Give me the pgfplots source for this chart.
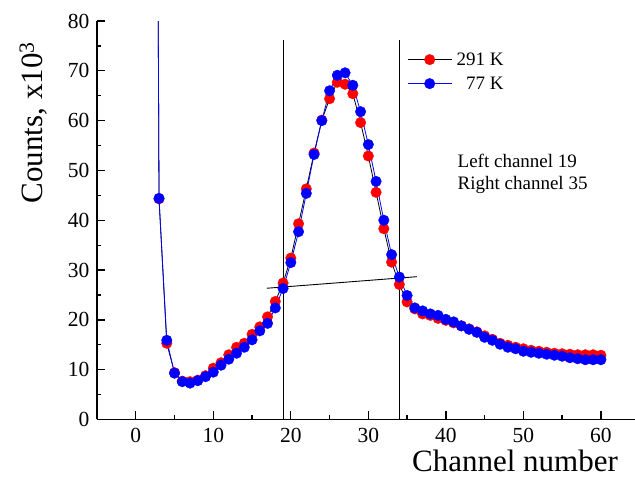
\documentclass[border=0pt]{standalone}
\usepackage{fontspec}
\setmainfont{Liberation Serif}
\usepackage{pgfplots}
\pgfplotsset{compat=1.18}
\begin{document}
\begin{tikzpicture}
\begin{axis}[
  at={(0,0)}, anchor=south west,
  scale only axis, width=538bp, height=398.5bp,
  xmin=-5, xmax=64.4, ymin=0, ymax=80,
  axis x line=bottom, axis y line=left,
  axis line style={-, line width=1.3bp},
  xtick={0,10,...,60}, minor xtick={5,15,...,55},
  ytick={0,10,...,80}, minor ytick={5,15,...,75},
  tick align=inside,
  major tick length=8bp, minor tick length=4.5bp,
  every tick/.style={line width=1.3bp, black},
  ticklabel style={font=\fontsize{21.5bp}{25bp}\selectfont},
  yticklabel style={xshift=-4bp},
  xticklabel style={yshift=-5bp},
  /pgf/number format/assume math mode=true,
  xlabel={Channel number},
  xlabel style={at={(axis description cs:0.777,-0.131)}, anchor=base, inner sep=0pt, font=\fontsize{31bp}{36bp}\selectfont},
  ylabel={Counts, x10\textsuperscript{3}},
  ylabel style={at={(axis description cs:-0.1004,0.745)}, anchor=base, inner sep=0pt, font=\fontsize{31bp}{36bp}\selectfont},
  legend style={at={(axis cs:35,74.0)}, anchor=north west, draw=none, fill=none,
    font=\fontsize{19bp}{22bp}\selectfont, inner sep=0pt, row sep=7bp, column sep=3bp, nodes={inner sep=1.5bp}},
  legend cell align=right,
  legend image code/.code={\draw[mark repeat=2,mark phase=2,#1] plot coordinates {(0bp,0bp) (22bp,0bp) (44bp,0bp)};},
]
\addplot[black, line width=0.8bp, mark=*, mark size=5.3bp, mark options={fill=red, draw=red, line width=0.3bp}] coordinates {
(2,400) (3,44.3) (4,15.3) (5,9.4) (6,7.7) (7,7.6) (8,7.9) (9,8.8) (10,10.3)
(11,11.4) (12,13.0) (13,14.5) (14,15.3) (15,17.1) (16,18.6) (17,20.6) (18,23.7)
(19,27.4) (20,32.4) (21,39.3) (22,46.3) (23,53.5) (24,60.1) (25,64.4) (26,67.7)
(27,67.3) (28,65.4) (29,59.6) (30,52.9) (31,45.6) (32,38.3) (33,31.6) (34,27.1)
(35,23.6) (36,22.2) (37,21.2) (38,20.9) (39,20.3) (40,19.9) (41,19.4) (42,18.8)
(43,18.2) (44,17.6) (45,16.8) (46,16.1) (47,15.3) (48,14.9) (49,14.5) (50,14.2)
(51,13.9) (52,13.7) (53,13.5) (54,13.3) (55,13.2) (56,13.1) (57,13.0) (58,13.0)
(59,13.0) (60,12.9)
};
\addlegendentry{291 K}
\addplot[blue, line width=0.8bp, mark=*, mark size=5.3bp, mark options={fill=blue, draw=blue, line width=0.3bp}] coordinates {
(2,400) (3,44.4) (4,15.9) (5,9.3) (6,7.6) (7,7.3) (8,7.8) (9,8.6) (10,9.5)
(11,10.9) (12,12.1) (13,13.3) (14,14.5) (15,16.0) (16,17.8) (17,19.3) (18,22.4)
(19,26.3) (20,31.5) (21,37.7) (22,45.4) (23,53.2) (24,60.0) (25,66.0) (26,69.1)
(27,69.6) (28,67.1) (29,61.8) (30,55.2) (31,47.8) (32,40.0) (33,33.1) (34,28.6)
(35,24.9) (36,22.4) (37,21.8) (38,21.2) (39,20.9) (40,20.1) (41,19.6) (42,18.8)
(43,18.1) (44,17.5) (45,16.5) (46,15.9) (47,15.1) (48,14.5) (49,14.2) (50,13.7)
(51,13.5) (52,13.3) (53,13.1) (54,12.9) (55,12.7) (56,12.4) (57,12.2) (58,12.0)
(59,12.0) (60,12.0)
};
\addlegendentry{77 K}
\addplot[black, line width=0.9bp, forget plot] coordinates {(19,0) (19,76.2)};
\addplot[black, line width=0.9bp, forget plot] coordinates {(34,0) (34,76.2)};
\addplot[black, line width=0.9bp, forget plot] coordinates {(16.9,26.35) (36.26,28.67)};
\node[anchor=base west, font=\fontsize{19bp}{22bp}\selectfont, inner sep=0pt] at (axis cs:41.5,50.5) {Left channel 19};
\node[anchor=base west, font=\fontsize{19bp}{22bp}\selectfont, inner sep=0pt] at (axis cs:41.5,46.1) {Right channel 35};
\end{axis}
\pgfresetboundingbox
\useasboundingbox (-97bp,-57.5bp) rectangle (538bp,419.5bp);
\end{tikzpicture}
\end{document}
